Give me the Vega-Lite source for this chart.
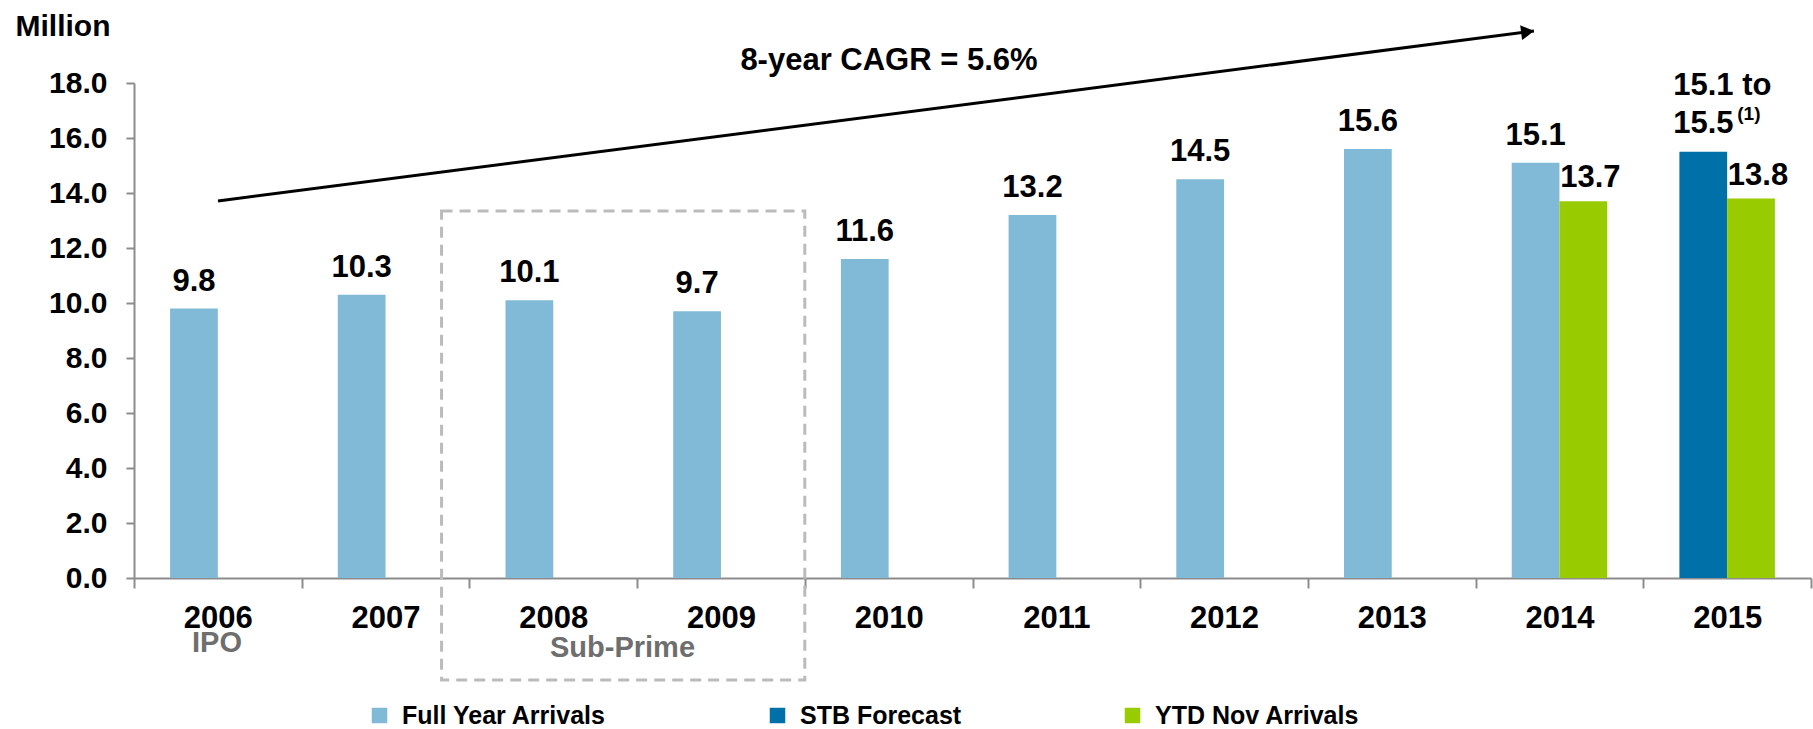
{
  "$schema": "https://vega.github.io/schema/vega-lite/v6.json",
  "width": 1677,
  "height": 495,
  "autosize": {"type": "none"},
  "padding": {"left": 134, "top": 83, "right": 2, "bottom": 151},
  "background": "white",
  "config": {"view": {"stroke": null}, "font": "Liberation Sans"},
  "datasets": {
    "bars": [
      {"year": "2006", "series": "Full Year Arrivals", "slot": "a", "value": 9.8, "label": "9.8"},
      {"year": "2007", "series": "Full Year Arrivals", "slot": "a", "value": 10.3, "label": "10.3"},
      {"year": "2008", "series": "Full Year Arrivals", "slot": "a", "value": 10.1, "label": "10.1"},
      {"year": "2009", "series": "Full Year Arrivals", "slot": "a", "value": 9.7, "label": "9.7"},
      {"year": "2010", "series": "Full Year Arrivals", "slot": "a", "value": 11.6, "label": "11.6"},
      {"year": "2011", "series": "Full Year Arrivals", "slot": "a", "value": 13.2, "label": "13.2"},
      {"year": "2012", "series": "Full Year Arrivals", "slot": "a", "value": 14.5, "label": "14.5"},
      {"year": "2013", "series": "Full Year Arrivals", "slot": "a", "value": 15.6, "label": "15.6"},
      {"year": "2014", "series": "Full Year Arrivals", "slot": "a", "value": 15.1, "label": "15.1"},
      {"year": "2014", "series": "YTD Nov Arrivals", "slot": "b", "value": 13.7, "label": "13.7"},
      {"year": "2015", "series": "STB Forecast", "slot": "a", "value": 15.5, "label": "15.1 to\n15.5"},
      {"year": "2015", "series": "YTD Nov Arrivals", "slot": "b", "value": 13.8, "label": "13.8"}
    ],
    "arrow": [{"x": 0.501, "y": 13.71}, {"x": 8.348, "y": 19.89}],
    "arrowhead": [{"x": 8.31, "y": 19.86}],
    "box": [{"x": 1.834, "x2": 4.0, "y": 13.35, "y2": -3.71}],
    "notes": [
      {"x": 0.495, "y": -2.69, "text": "IPO", "kind": "era"},
      {"x": 2.913, "y": -2.87, "text": "Sub-Prime", "kind": "era"},
      {"x": 4.502, "y": 18.47, "text": "8-year CAGR = 5.6%", "kind": "cagr"}
    ]
  },
  "layer": [
    {
      "data": {"name": "bars"},
      "encoding": {
        "x": {
          "field": "year", "type": "nominal",
          "scale": {"domain": ["2006","2007","2008","2009","2010","2011","2012","2013","2014","2015"], "paddingInner": 0, "paddingOuter": 0},
          "axis": {
            "title": null, "labelAngle": 0, "labelFont": "Liberation Sans", "labelFontSize": 31, "labelFontWeight": "bold", "labelColor": "#000000",
            "tickBand": "extent", "tickSize": 10, "tickColor": "#8c8c8c", "tickWidth": 2,
            "domainColor": "#8c8c8c", "domainWidth": 2, "labelPadding": 15, "grid": false
          }
        },
        "xOffset": {"field": "slot", "type": "nominal", "scale": {"domain": ["a", "b"], "paddingInner": 0, "paddingOuter": 0.756}},
        "y": {
          "field": "value", "type": "quantitative",
          "scale": {"domain": [0, 18], "nice": false, "zero": true},
          "axis": {
            "title": "Million", "titleAngle": 0, "titleX": -119, "titleY": -48, "titleAlign": "left", "titleBaseline": "alphabetic",
            "titleFont": "Liberation Sans", "titleFontSize": 30, "titleFontWeight": "bold", "titleColor": "#000000",
            "values": [0, 2, 4, 6, 8, 10, 12, 14, 16, 18], "format": ".1f",
            "labelFont": "Liberation Sans", "labelFontSize": 30, "labelFontWeight": "bold", "labelColor": "#000000", "labelPadding": 19,
            "tickSize": 8, "tickColor": "#8c8c8c", "tickWidth": 2, "domainColor": "#8c8c8c", "domainWidth": 2, "grid": false
          }
        }
      },
      "layer": [
        {
          "mark": {"type": "bar"},
          "encoding": {
            "color": {
              "field": "series", "type": "nominal",
              "scale": {"domain": ["Full Year Arrivals", "STB Forecast", "YTD Nov Arrivals"], "range": ["#80bad6", "#0071a8", "#99cc00"]},
              "legend": {
                "orient": "none", "legendX": 233, "legendY": 620, "direction": "horizontal", "title": null,
                "gridAlign": "none",
                "symbolType": "square", "symbolSize": 240, "symbolStrokeWidth": 0, "symbolOpacity": 1,
                "labelFont": "Liberation Sans", "labelFontSize": 25, "labelFontWeight": "bold", "labelColor": "#000000",
                "labelOffset": 10, "labelLimit": 500, "columnPadding": 158
              }
            }
          }
        },
        {
          "transform": [{"filter": "datum.series === 'Full Year Arrivals'"}],
          "mark": {"type": "text", "font": "Liberation Sans", "fontSize": 31, "fontWeight": "bold", "color": "#000000", "baseline": "alphabetic", "dy": -18},
          "encoding": {"text": {"field": "label"}}
        },
        {
          "transform": [{"filter": "datum.series === 'YTD Nov Arrivals'"}],
          "mark": {"type": "text", "font": "Liberation Sans", "fontSize": 31, "fontWeight": "bold", "color": "#000000", "baseline": "alphabetic", "dy": -14, "dx": 7},
          "encoding": {"text": {"field": "label"}}
        },
        {
          "transform": [{"filter": "datum.series === 'STB Forecast'"}],
          "mark": {"type": "text", "font": "Liberation Sans", "fontSize": 31, "fontWeight": "bold", "color": "#000000", "baseline": "alphabetic", "align": "left", "lineBreak": "\n", "lineHeight": 38, "dy": -57, "dx": -30},
          "encoding": {"text": {"field": "label"}}
        },
        {
          "transform": [{"filter": "datum.series === 'STB Forecast'"}],
          "mark": {"type": "text", "text": "(1)", "font": "Liberation Sans", "fontSize": 19, "fontWeight": "bold", "color": "#000000", "baseline": "alphabetic", "align": "left", "dy": -32, "dx": 34}
        }
      ]
    },
    {
      "layer": [
        {
          "data": {"name": "box"},
          "mark": {"type": "rect", "fill": "transparent", "stroke": "#bbbbbb", "strokeWidth": 3, "strokeDash": [11, 7]},
          "encoding": {
            "x": {"field": "x", "type": "quantitative", "scale": {"domain": [0, 10], "nice": false, "zero": false}, "axis": null},
            "x2": {"field": "x2"},
            "y": {"field": "y", "type": "quantitative", "scale": {"domain": [0, 18], "nice": false}},
            "y2": {"field": "y2"}
          }
        },
        {
          "data": {"name": "arrow"},
          "mark": {"type": "line", "color": "#000000", "strokeWidth": 3},
          "encoding": {
            "x": {"field": "x", "type": "quantitative", "scale": {"domain": [0, 10], "nice": false, "zero": false}, "axis": null},
            "y": {"field": "y", "type": "quantitative", "scale": {"domain": [0, 18], "nice": false}}
          }
        },
        {
          "data": {"name": "arrowhead"},
          "mark": {"type": "point", "shape": "triangle-right", "size": 225, "filled": true, "color": "#000000", "opacity": 1, "angle": 352.6},
          "encoding": {
            "x": {"field": "x", "type": "quantitative", "scale": {"domain": [0, 10], "nice": false, "zero": false}, "axis": null},
            "y": {"field": "y", "type": "quantitative", "scale": {"domain": [0, 18], "nice": false}}
          }
        },
        {
          "data": {"name": "notes"},
          "transform": [{"filter": "datum.kind === 'era'"}],
          "mark": {"type": "text", "font": "Liberation Sans", "fontSize": 29, "fontWeight": "bold", "color": "#6e6e6e", "baseline": "alphabetic", "align": "center"},
          "encoding": {
            "x": {"field": "x", "type": "quantitative", "scale": {"domain": [0, 10], "nice": false, "zero": false}, "axis": null},
            "y": {"field": "y", "type": "quantitative", "scale": {"domain": [0, 18], "nice": false}},
            "text": {"field": "text"}
          }
        },
        {
          "data": {"name": "notes"},
          "transform": [{"filter": "datum.kind === 'cagr'"}],
          "mark": {"type": "text", "font": "Liberation Sans", "fontSize": 31, "fontWeight": "bold", "color": "#000000", "baseline": "alphabetic", "align": "center"},
          "encoding": {
            "x": {"field": "x", "type": "quantitative", "scale": {"domain": [0, 10], "nice": false, "zero": false}, "axis": null},
            "y": {"field": "y", "type": "quantitative", "scale": {"domain": [0, 18], "nice": false}},
            "text": {"field": "text"}
          }
        }
      ]
    }
  ],
  "resolve": {"scale": {"x": "independent"}, "axis": {"x": "independent"}}
}
